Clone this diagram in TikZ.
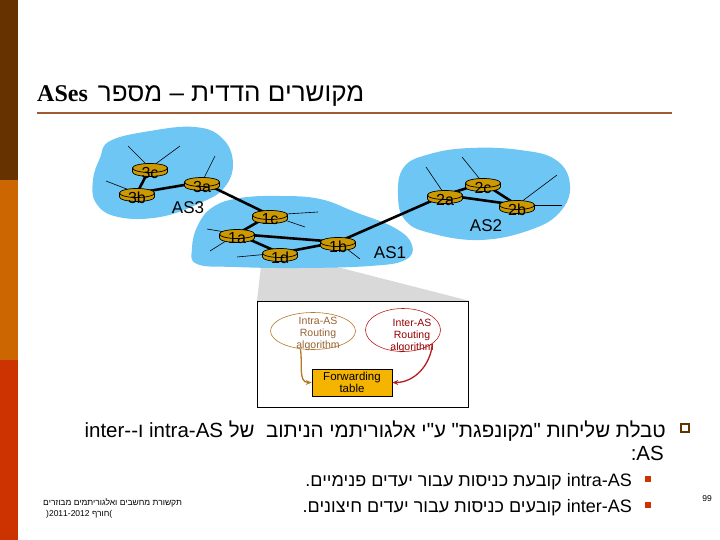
\documentclass[tikz,border=0pt]{standalone}
\usepackage{fontspec}
\setmainfont{Liberation Sans}
\newfontfamily\hefont[Script=Hebrew]{Liberation Sans}
\newfontfamily\titlelat{Liberation Serif}
\TeXXeTstate=1
\usetikzlibrary{shapes.geometric,arrows.meta}
\definecolor{barA}{RGB}{102,51,0}
\definecolor{barB}{RGB}{204,102,0}
\definecolor{barC}{RGB}{204,51,0}
\definecolor{tline}{RGB}{160,90,50}
\definecolor{blob}{RGB}{110,198,245}
\definecolor{gold}{RGB}{204,153,0}
\definecolor{wedge}{RGB}{217,217,217}
\definecolor{intraC}{RGB}{180,120,40}
\definecolor{intraT}{RGB}{150,100,50}
\definecolor{interC}{RGB}{180,30,30}
\definecolor{interT}{RGB}{150,0,0}
\definecolor{fwdfill}{RGB}{245,180,0}
\begin{document}
\begin{tikzpicture}[x=1pt,y=-1pt,
  blobst/.style={fill=blob},
  hostln/.style={draw=black,line width=0.6pt},
  linkln/.style={draw=black,line width=2.6pt},
  routertop/.style={ellipse,draw=black,line width=0.7pt,fill=gold,minimum width=35pt,minimum height=9pt,inner sep=0pt},
  rlabel/.style={font=\fontsize{16}{16}\selectfont,inner sep=0pt},
  aslabel/.style={font=\fontsize{17}{17}\selectfont,inner sep=0pt},
  smalltxt/.style={font=\fontsize{10.5}{12}\selectfont,align=center,inner sep=0pt},
  hebmain/.style={font=\hefont\fontsize{20.5}{25}\selectfont,inner sep=0pt},
  hebsub/.style={font=\hefont\fontsize{18}{22}\selectfont,inner sep=0pt},
  footer/.style={font=\hefont\fontsize{8.5}{10}\selectfont,inner sep=0pt}
]
\useasboundingbox (0,0) rectangle (720,540);
% left bar
\fill[barA] (0,0) rectangle (18,180);
\fill[barB] (0,180) rectangle (18,360);
\fill[barC] (0,360) rectangle (18,540);
% title
\node[anchor=base west,inner sep=0pt] (title) at (37,102)
  {{\titlelat\bfseries\fontsize{24}{28}\selectfont ASes}\hspace{10pt}{\hefont\fontsize{26}{28}\selectfont\beginR מקושרים הדדית – מספר\endR}};
\coordinate (tl1) at (37,113);
\coordinate (tl2) at (672,113);
\draw[tline,line width=2pt] (tl1) -- (tl2);
% wedge
\fill[wedge] (262,257) -- (298,257) -- (470,301) -- (257,301) -- cycle;
% blobs
\fill[blobst] plot[smooth cycle,tension=0.7] coordinates {(110,141) (150,131) (195,127) (222,138) (233,163) (224,188) (200,203) (160,217) (118,217) (96,203) (93,180) (100,158)};
\fill[blobst] plot[smooth cycle,tension=0.7] coordinates {(197,264) (192,248) (198,225) (213,207) (240,198) (280,196) (320,199) (355,212) (395,228) (412,245) (405,260) (370,266) (300,268) (235,267)};
\fill[blobst] plot[smooth cycle,tension=0.7] coordinates {(404,167) (430,154) (470,148) (520,150) (556,160) (570,185) (560,212) (530,230) (480,240) (430,233) (405,220) (398,195)};
% router positions
\foreach \n/\x/\y in {3c/150/168,3b/137/193,3a/202/182,1c/270/215,1a/237/234,1d/280/253,1b/338/242,2a/445/195,2c/483/183,2b/517/205}
  \coordinate (\n) at (\x,\y);
% host lines
\foreach \n/\px/\py in {3c/128/146,3c/180/146,3b/106/181,3a/215/156,1c/318/212,1c/305/227,1a/207/229,1a/210/251,1d/237/257,1b/360/259,2a/426/167,2c/462/157,2b/557/175,2b/562/205}
  \draw[hostln] (\n) -- (\px,\py);
% links
\foreach \a/\b in {3c/3b,3b/3a,3a/1c,1c/1a,1a/1b,1a/1d,1d/1b,1b/2a,2a/2c,2a/2b,2c/2b}
  \draw[linkln] (\a) -- (\b);
% routers
\foreach \n/\x/\y in {3c/150/168,3b/137/193,3a/202/182,1c/270/215,1a/237/234,1d/280/253,1b/338/242,2a/445/195,2c/483/183,2b/517/205}{
  \filldraw[fill=gold,draw=black,line width=0.7pt] (\x-17.5,\y) -- (\x-17.5,\y+4) arc[start angle=180,end angle=0,x radius=17.5,y radius=4.5] -- (\x+17.5,\y) -- cycle;
  \node[routertop] (r\n) at (\x,\y) {};
  \node[rlabel] (t\n) at (\x,\y+4.5) {\n};
}
% AS labels
\node[aslabel] (as3) at (188,208) {AS3};
\node[aslabel] (as1) at (390,253) {AS1};
\node[aslabel] (as2) at (486,226) {AS2};
% inner box
\node[draw=black,fill=white,line width=0.8pt,minimum width=211pt,minimum height=106pt,inner sep=0pt] (box) at (362.5,354) {};
\node[ellipse,draw=intraC,line width=0.6pt,minimum width=85pt,minimum height=37pt,inner sep=0pt] (intra) at (313,331) {};
\node[smalltxt,text=intraT] (intratxt) at (318,334) {Intra-AS\\Routing\\algorithm};
\node[ellipse,draw=interC,line width=0.6pt,minimum width=75pt,minimum height=43pt,inner sep=0pt] (inter) at (403,330) {};
\node[smalltxt,text=interT] (intertxt) at (412,336) {Inter-AS\\Routing\\algorithm};
\node[draw=black,fill=fwdfill,line width=0.6pt,minimum width=80pt,minimum height=27pt,inner sep=0pt,align=center,font=\fontsize{11.5}{11.5}\selectfont] (fwd) at (352,382.5) {Forwarding\\table};
\draw[intraC,line width=1.3pt,-{Stealth[length=6pt,width=5pt]}] (intra.235) to[out=-80,in=180] (fwd.west);
\draw[interC,line width=1.3pt,-{Stealth[length=6pt,width=5pt]}] (inter.-25) to[out=-95,in=0] (fwd.east);
% bullet text
\node[draw=barA,line width=1.8pt,minimum size=8pt,inner sep=0pt] (bul0) at (685,428) {};
\node[hebmain,anchor=base east] (l1) at (666,437) {\beginR טבלת שליחות "מקונפגת" ע"י אלגוריתמי הניתוב\ \ של \beginL intra-AS\endL{} ו\beginL inter-{}-\endL\endR};
\node[hebmain,anchor=base east] (l2) at (664,460) {\beginR\beginL AS\endL:\endR};
\node[fill=barC,minimum size=6pt,inner sep=0pt] (bul1) at (648,479) {};
\node[fill=barC,minimum size=6pt,inner sep=0pt] (bul2) at (648,505) {};
\node[hebsub,anchor=base east] (s1) at (632,486) {\beginR\beginL intra-AS\endL{} קובעת כניסות עבור יעדים פנימיים.\endR};
\node[hebsub,anchor=base east] (s2) at (632,512) {\beginR\beginL inter-AS\endL{} קובעים כניסות עבור יעדים חיצונים.\endR};
% footer
\node[footer,anchor=base west] (f1) at (43,505) {\beginR תקשורת מחשבים ואלגוריתמים מבוזרים\endR};
\node[footer,anchor=base west] (f2) at (46,516) {\beginR\hbox{)}חורף \beginL 2011-2012\endL\hbox{(}\endR};
\node[font=\fontsize{8.5}{10}\selectfont,inner sep=0pt] (pg) at (707,499) {99};
\end{tikzpicture}
\end{document}
